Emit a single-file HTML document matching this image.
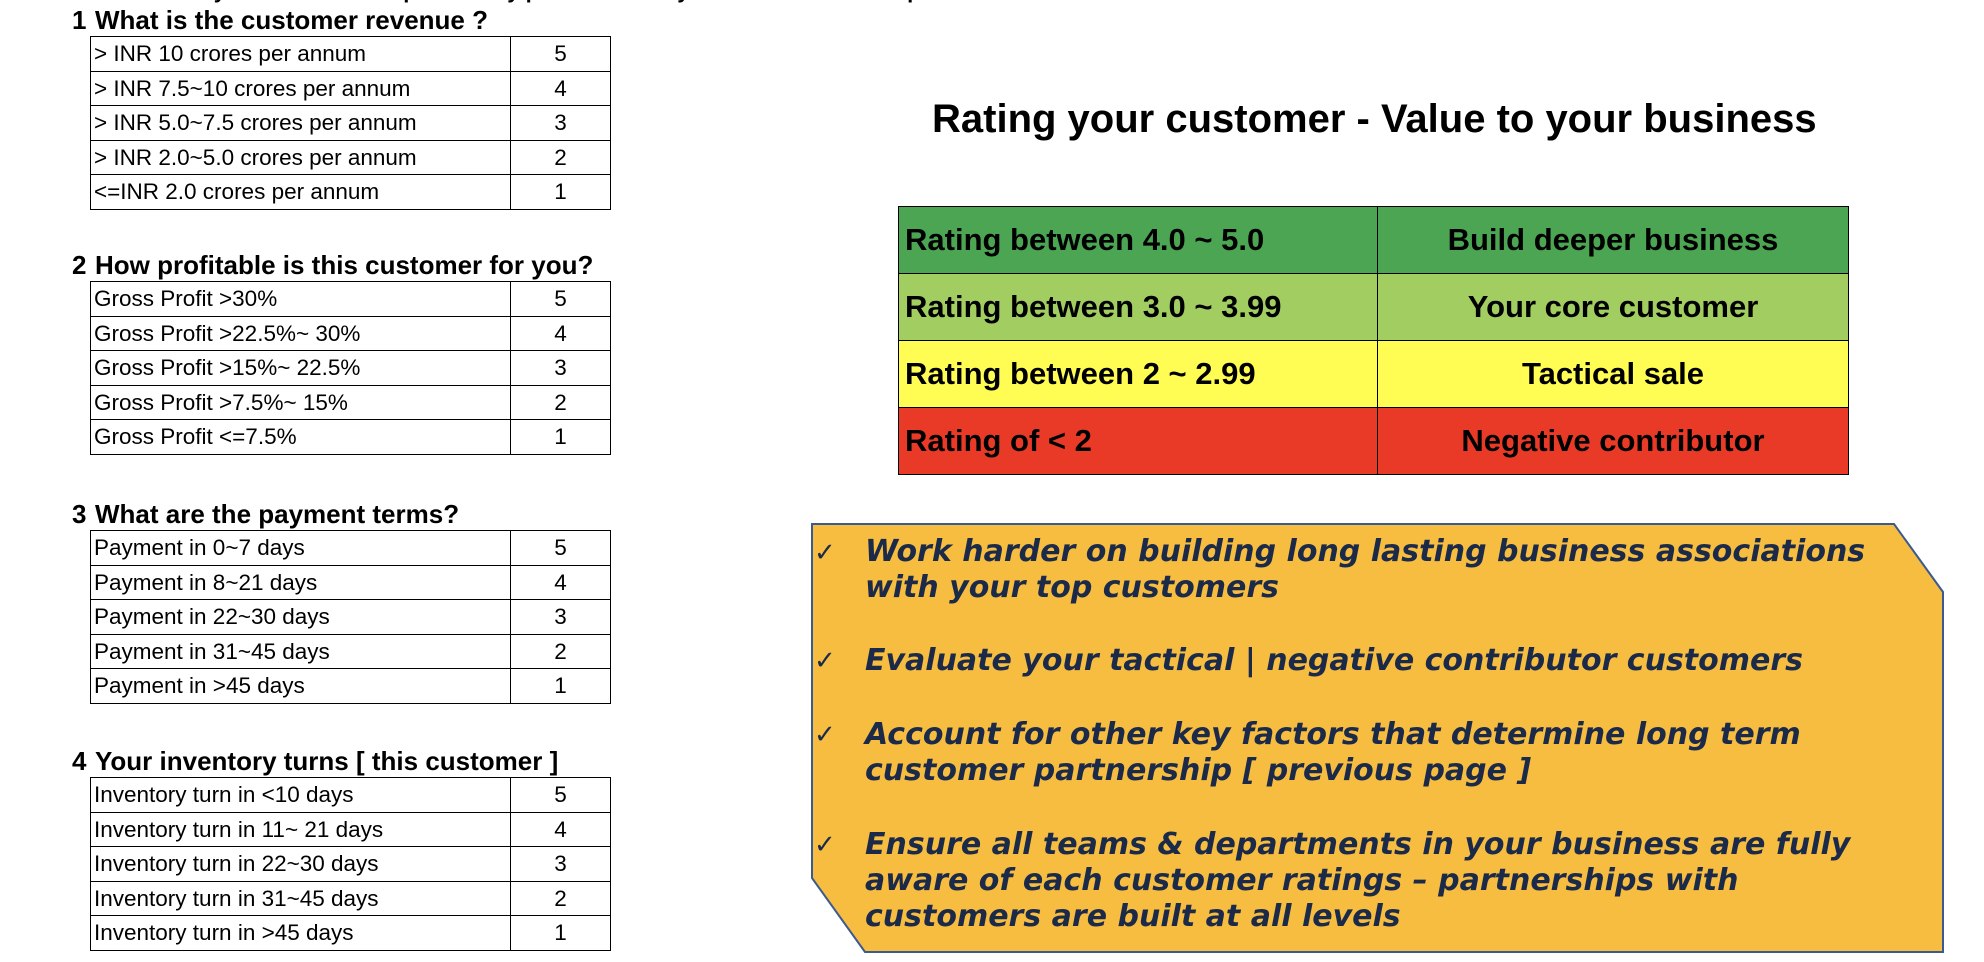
<!DOCTYPE html>
<html><head><meta charset="utf-8"><style>
body{margin:0;width:1984px;height:962px;overflow:hidden;background:#fff;font-family:"Liberation Sans",sans-serif;position:relative}
.t{position:absolute;font-weight:bold;font-size:26px;color:#000;white-space:nowrap}
.t b{position:absolute;left:-23px}
table.q{position:absolute;left:90px;width:521px;border-collapse:collapse;font-size:22.5px}
table.q td{border:1.5px solid #000;height:33.5px;padding:0 0 0 3px;line-height:33px;white-space:nowrap}
table.q td.n{width:99px;text-align:center;padding:0}
#rt{position:absolute;left:898px;top:206px;width:951px;border-collapse:collapse;font-weight:bold;font-size:31px}
#rt td{border:1.5px solid #000;height:66px;padding:0 0 0 6px;white-space:nowrap}
#rt td.r{text-align:center;width:470px;padding:0}
.b{position:absolute;left:865px;font-family:"DejaVu Sans",sans-serif;font-weight:bold;font-style:italic;font-size:30px;color:#1c2a4a;white-space:nowrap;line-height:36px}
.c{position:absolute;left:814px;font-size:26px;color:#1c2a4a;font-family:"DejaVu Sans",sans-serif}
</style></head><body>
<div class="t" style="left:160px;top:-22px;font-size:22px">Rate your customer as per the key parameters of your business – each parameter</div>

<div class="t" style="left:95px;top:5px"><b>1</b>What is the customer revenue ?</div>
<table class="q" style="top:36px">
<tr><td>&gt; INR 10 crores per annum</td><td class="n">5</td></tr>
<tr><td>&gt; INR 7.5~10 crores per annum</td><td class="n">4</td></tr>
<tr><td>&gt; INR 5.0~7.5 crores per annum</td><td class="n">3</td></tr>
<tr><td>&gt; INR 2.0~5.0 crores per annum</td><td class="n">2</td></tr>
<tr><td>&lt;=INR 2.0 crores per annum</td><td class="n">1</td></tr>
</table>

<div class="t" style="left:95px;top:250px"><b>2</b>How profitable is this customer for you?</div>
<table class="q" style="top:281px">
<tr><td>Gross Profit &gt;30%</td><td class="n">5</td></tr>
<tr><td>Gross Profit &gt;22.5%~ 30%</td><td class="n">4</td></tr>
<tr><td>Gross Profit &gt;15%~ 22.5%</td><td class="n">3</td></tr>
<tr><td>Gross Profit &gt;7.5%~ 15%</td><td class="n">2</td></tr>
<tr><td>Gross Profit &lt;=7.5%</td><td class="n">1</td></tr>
</table>

<div class="t" style="left:95px;top:499px"><b>3</b>What are the payment terms?</div>
<table class="q" style="top:530px">
<tr><td>Payment in 0~7 days</td><td class="n">5</td></tr>
<tr><td>Payment in 8~21 days</td><td class="n">4</td></tr>
<tr><td>Payment in 22~30 days</td><td class="n">3</td></tr>
<tr><td>Payment in 31~45 days</td><td class="n">2</td></tr>
<tr><td>Payment in &gt;45 days</td><td class="n">1</td></tr>
</table>

<div class="t" style="left:95px;top:746px"><b>4</b>Your inventory turns [ this customer ]</div>
<table class="q" style="top:777px">
<tr><td>Inventory turn in &lt;10 days</td><td class="n">5</td></tr>
<tr><td>Inventory turn in 11~ 21 days</td><td class="n">4</td></tr>
<tr><td>Inventory turn in 22~30 days</td><td class="n">3</td></tr>
<tr><td>Inventory turn in 31~45 days</td><td class="n">2</td></tr>
<tr><td>Inventory turn in &gt;45 days</td><td class="n">1</td></tr>
</table>

<div class="t" style="left:932px;top:97px;font-size:40px">Rating your customer - Value to your business</div>

<table id="rt">
<tr style="background:#4ca552"><td>Rating between 4.0 ~ 5.0</td><td class="r">Build deeper business</td></tr>
<tr style="background:#a2cd60"><td>Rating between 3.0 ~ 3.99</td><td class="r">Your core customer</td></tr>
<tr style="background:#fffc54"><td>Rating between 2 ~ 2.99</td><td class="r">Tactical sale</td></tr>
<tr style="background:#e93a28"><td>Rating of &lt; 2</td><td class="r">Negative contributor</td></tr>
</table>

<svg style="position:absolute;left:0;top:0" width="1984" height="962">
<polygon points="812,524 1894,524 1943,592 1943,952 865,952 812,878" fill="#f6bd41" stroke="#3a5a90" stroke-width="2"/>
</svg>
<div class="c" style="top:538px">✓</div>
<div class="b" style="top:534px">Work harder on building long lasting business associations<br>with your top customers</div>
<div class="c" style="top:646px">✓</div>
<div class="b" style="top:643px">Evaluate your tactical | negative contributor customers</div>
<div class="c" style="top:720px">✓</div>
<div class="b" style="top:717px">Account for other key factors that determine long term<br>customer partnership [ previous page ]</div>
<div class="c" style="top:830px">✓</div>
<div class="b" style="top:827px">Ensure all teams &amp; departments in your business are fully<br>aware of each customer ratings – partnerships with<br>customers are built at all levels</div>
</body></html>
